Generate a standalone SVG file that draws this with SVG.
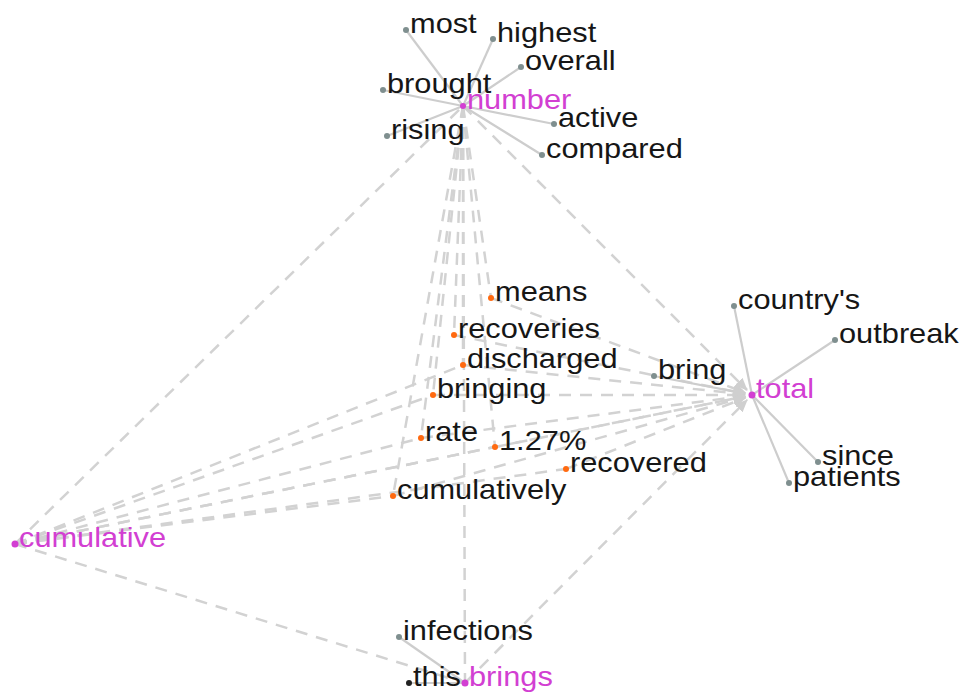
<svg xmlns="http://www.w3.org/2000/svg" width="968" height="696" viewBox="0 0 968 696">
<style>
  text { font-family: "Liberation Sans", Arial, sans-serif; font-size: 27px; fill: #161616; }
  .key text { fill: #d23fd2; }
  .key circle { fill: #d23fd2; }
  .mid circle { fill: #ff6a10; }
  .ctx circle { fill: #7f8f8f; }
  .blk circle { fill: #222; }
  .solid line { stroke: #cdcdcd; stroke-width: 2.2; fill: none; }
  .dash line { stroke: #d2d2d2; stroke-width: 2.5; stroke-dasharray: 12 9; fill: none; }
  .arr { marker-end: url(#ah); }
</style>
<defs>
  <marker id="ah" markerUnits="userSpaceOnUse" markerWidth="13" markerHeight="11" refX="12" refY="5.5" orient="auto">
    <path d="M0,0 L13,5.5 L0,11 z" fill="#cfcfcf"/>
  </marker>
</defs>
<rect width="968" height="696" fill="#ffffff"/>
<g id="connectors">
  <g class="dash">
    <line x1="463" y1="106" x2="491" y2="298"/>
    <line x1="463" y1="106" x2="454" y2="335"/>
    <line x1="463" y1="106" x2="463" y2="365"/>
    <line x1="463" y1="106" x2="433" y2="395"/>
    <line x1="463" y1="106" x2="421" y2="438"/>
    <line x1="463" y1="106" x2="495" y2="447"/>
    <line x1="463" y1="106" x2="393" y2="496"/>
    <line x1="463" y1="106" x2="465" y2="683"/>
    <line class="arr" x1="463" y1="106" x2="747" y2="390"/>
    <line x1="15" y1="544" x2="463" y2="106"/>
    <line x1="15" y1="544" x2="463" y2="365"/>
    <line x1="15" y1="544" x2="433" y2="395"/>
    <line x1="15" y1="544" x2="421" y2="438"/>
    <line x1="15" y1="544" x2="495" y2="447"/>
    <line x1="15" y1="544" x2="566" y2="469"/>
    <line x1="15" y1="544" x2="393" y2="496"/>
    <line x1="15" y1="544" x2="465" y2="683"/>
    <line class="arr" x1="15" y1="544" x2="745.1" y2="396.4"/>
    <line class="arr" x1="491" y1="298" x2="745.4" y2="392.6"/>
    <line class="arr" x1="454" y1="335" x2="745.1" y2="393.6"/>
    <line class="arr" x1="463" y1="365" x2="745" y2="394.3"/>
    <line class="arr" x1="433" y1="395" x2="745" y2="395"/>
    <line class="arr" x1="421" y1="438" x2="745.1" y2="395.9"/>
    <line class="arr" x1="495" y1="447" x2="745.1" y2="396.4"/>
    <line class="arr" x1="566" y1="469" x2="745.5" y2="397.6"/>
    <line class="arr" x1="393" y1="496" x2="745.3" y2="396.9"/>
    <line class="arr" x1="465" y1="683" x2="747.1" y2="400"/>
  </g>
  <g class="solid">
    <line x1="463" y1="106" x2="406" y2="30"/>
    <line x1="463" y1="106" x2="493" y2="39"/>
    <line x1="463" y1="106" x2="521" y2="67"/>
    <line x1="463" y1="106" x2="383" y2="90"/>
    <line x1="463" y1="106" x2="554" y2="124"/>
    <line x1="463" y1="106" x2="387" y2="136"/>
    <line x1="463" y1="106" x2="542" y2="155"/>
    <line x1="752" y1="395" x2="734" y2="306"/>
    <line x1="752" y1="395" x2="835" y2="340"/>
    <line x1="752" y1="395" x2="818" y2="462"/>
    <line x1="752" y1="395" x2="789" y2="483"/>
    <line class="arr" x1="654" y1="376" x2="745.1" y2="393.7"/>
    <line x1="465" y1="683" x2="399" y2="637"/>
    <line x1="465" y1="683" x2="409" y2="683"/>
  </g>
</g>
<g id="n-most" class="ctx"><circle cx="406" cy="30" r="3"/><text transform="translate(410,33) scale(1.14,1)">most</text></g>
<g id="n-highest" class="ctx"><circle cx="493" cy="39" r="3"/><text transform="translate(497,42) scale(1.14,1)">highest</text></g>
<g id="n-overall" class="ctx"><circle cx="521" cy="67" r="3"/><text transform="translate(525,70) scale(1.14,1)">overall</text></g>
<g id="n-brought" class="ctx"><circle cx="383" cy="90" r="3"/><text transform="translate(387,93) scale(1.14,1)">brought</text></g>
<g id="n-active" class="ctx"><circle cx="554" cy="124" r="3"/><text transform="translate(558,127) scale(1.14,1)">active</text></g>
<g id="n-rising" class="ctx"><circle cx="387" cy="136" r="3"/><text transform="translate(391,139) scale(1.14,1)">rising</text></g>
<g id="n-compared" class="ctx"><circle cx="542" cy="155" r="3"/><text transform="translate(546,158) scale(1.14,1)">compared</text></g>
<g id="n-number" class="key"><circle cx="463" cy="106" r="3"/><text transform="translate(467,109) scale(1.14,1)">number</text></g>
<g id="n-means" class="mid"><circle cx="491" cy="298" r="3"/><text transform="translate(495,301) scale(1.14,1)">means</text></g>
<g id="n-recoveries" class="mid"><circle cx="454" cy="335" r="3"/><text transform="translate(458,338) scale(1.14,1)">recoveries</text></g>
<g id="n-discharged" class="mid"><circle cx="463" cy="365" r="3"/><text transform="translate(467,368) scale(1.14,1)">discharged</text></g>
<g id="n-bringing" class="mid"><circle cx="433" cy="395" r="3"/><text transform="translate(437,398) scale(1.14,1)">bringing</text></g>
<g id="n-rate" class="mid"><circle cx="421" cy="438" r="3"/><text transform="translate(425,441) scale(1.14,1)">rate</text></g>
<g id="n-pct" class="mid"><circle cx="495" cy="447" r="3"/><text transform="translate(499,450) scale(1.14,1)">1.27%</text></g>
<g id="n-recovered" class="mid"><circle cx="566" cy="469" r="3"/><text transform="translate(570,472) scale(1.14,1)">recovered</text></g>
<g id="n-cumulatively" class="mid"><circle cx="393" cy="496" r="3"/><text transform="translate(397,499) scale(1.14,1)">cumulatively</text></g>
<g id="n-bring" class="ctx"><circle cx="654" cy="376" r="3"/><text transform="translate(658,379) scale(1.14,1)">bring</text></g>
<g id="n-countrys" class="ctx"><circle cx="734" cy="306" r="3"/><text transform="translate(738,309) scale(1.14,1)">country's</text></g>
<g id="n-outbreak" class="ctx"><circle cx="835" cy="340" r="3"/><text transform="translate(839,343) scale(1.14,1)">outbreak</text></g>
<g id="n-since" class="ctx"><circle cx="818" cy="462" r="3"/><text transform="translate(822,465) scale(1.14,1)">since</text></g>
<g id="n-patients" class="ctx"><circle cx="789" cy="483" r="3"/><text transform="translate(793,486) scale(1.14,1)">patients</text></g>
<g id="n-total" class="key"><circle cx="752" cy="395" r="3.5"/><text transform="translate(756,398) scale(1.14,1)">total</text></g>
<g id="n-cumulative" class="key"><circle cx="15" cy="544" r="3.5"/><text transform="translate(19,547) scale(1.14,1)">cumulative</text></g>
<g id="n-infections" class="ctx"><circle cx="399" cy="637" r="3"/><text transform="translate(403,640) scale(1.14,1)">infections</text></g>
<g id="n-this" class="blk"><circle cx="409" cy="683" r="3"/><text transform="translate(413,686) scale(1.14,1)">this</text></g>
<g id="n-brings" class="key"><circle cx="465" cy="683" r="3.5"/><text transform="translate(469,686) scale(1.14,1)">brings</text></g>
</svg>
